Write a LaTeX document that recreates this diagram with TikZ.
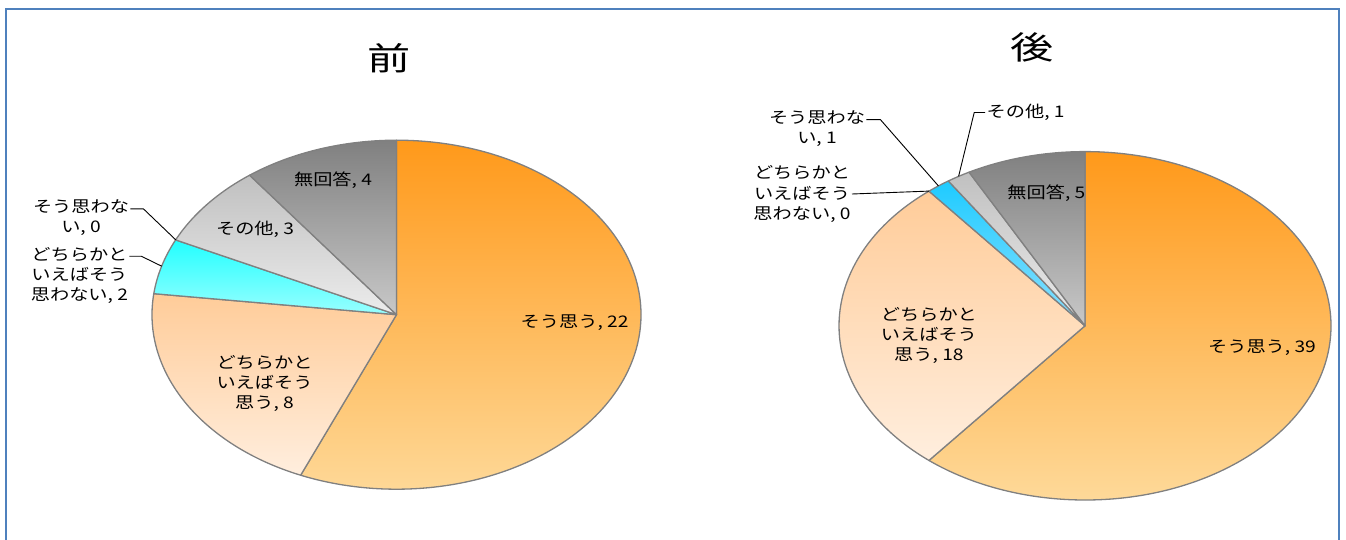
\documentclass[tikz,border=0pt]{standalone}
\usepackage{fontspec}
\setmainfont{Noto Sans CJK JP}
\definecolor{orgtop}{RGB}{255,153,26}
\definecolor{orgbot}{RGB}{254,217,153}
\definecolor{pchtop}{RGB}{255,204,153}
\definecolor{pchbot}{RGB}{255,238,222}
\definecolor{cyntop}{RGB}{34,255,255}
\definecolor{cynbot}{RGB}{153,255,255}
\definecolor{blutop}{RGB}{30,203,255}
\definecolor{blubot}{RGB}{140,224,255}
\definecolor{ltgtop}{RGB}{192,192,192}
\definecolor{ltgbot}{RGB}{236,236,236}
\definecolor{dkgtop}{RGB}{128,128,128}
\definecolor{dkgbot}{RGB}{200,200,200}
\definecolor{edgegray}{RGB}{128,128,128}
\definecolor{framecol}{RGB}{79,129,189}
\begin{document}
\begin{tikzpicture}[x=1pt,y=-1pt,
    slice/.style={draw=edgegray,line width=1.3pt,line join=round},
    lbl/.style={font=\fontsize{16}{20}\selectfont,align=center,inner sep=1pt,xscale=1.2,transform shape},
    ttl/.style={font=\fontsize{32}{36}\selectfont,inner sep=0pt,xscale=1.35,transform shape},
    leader/.style={draw=black,line width=0.9pt},
    chartframe/.style={draw=framecol,line width=2pt}]
  \useasboundingbox (0,0) rectangle (1346,540);
  \draw[chartframe] (5.7,9) rectangle (1338.7,560);
  \node[ttl] (t1) at (389,58) {前};
  \node[ttl] (t2) at (1032,47) {後};
  \begin{scope}[shift={(396.5,314.7)},xscale=244.5,yscale=-174.5]
    \draw[slice,top color=orgtop,bottom color=orgbot] (0,0) -- (90:1) arc[start angle=90,end angle=-113.08,radius=1] -- cycle;
    \draw[slice,top color=pchtop,bottom color=pchbot] (0,0) -- (-113.08:1) arc[start angle=-113.08,end angle=-186.92,radius=1] -- cycle;
    \draw[slice,top color=cyntop,bottom color=cynbot] (0,0) -- (-186.92:1) arc[start angle=-186.92,end angle=-205.38,radius=1] -- cycle;
    \draw[slice,top color=ltgtop,bottom color=ltgbot] (0,0) -- (-205.38:1) arc[start angle=-205.38,end angle=-233.08,radius=1] -- cycle;
    \draw[slice,top color=dkgtop,bottom color=dkgbot] (0,0) -- (-233.08:1) arc[start angle=-233.08,end angle=-270,radius=1] -- cycle;
  \end{scope}
  \begin{scope}[shift={(1085,325.8)},xscale=246,yscale=-174.2]
    \draw[slice,top color=orgtop,bottom color=orgbot] (0,0) -- (90:1) arc[start angle=90,end angle=-129.375,radius=1] -- cycle;
    \draw[slice,top color=pchtop,bottom color=pchbot] (0,0) -- (-129.375:1) arc[start angle=-129.375,end angle=-230.625,radius=1] -- cycle;
    \draw[slice,top color=blutop,bottom color=blubot] (0,0) -- (-230.625:1) arc[start angle=-230.625,end angle=-236.25,radius=1] -- cycle;
    \draw[slice,top color=ltgtop,bottom color=ltgbot] (0,0) -- (-236.25:1) arc[start angle=-236.25,end angle=-241.875,radius=1] -- cycle;
    \draw[slice,top color=dkgtop,bottom color=dkgbot] (0,0) -- (-241.875:1) arc[start angle=-241.875,end angle=-270,radius=1] -- cycle;
  \end{scope}
  \node[lbl] (a1) at (574.6,322.7) {そう思う, 22};
  \node[lbl] (a2) at (264.5,383) {どちらかと\\いえばそう\\思う, 8};
  \node[lbl] (a3) at (79.4,275.5) {どちらかと\\いえばそう\\思わない, 2};
  \node[lbl] (a4) at (81,218) {そう思わな\\い, 0};
  \node[lbl] (a5) at (255,229) {その他, 3};
  \node[lbl] (a6) at (333,180) {無回答, 4};
  \node[lbl] (b1) at (1262,347.8) {そう思う, 39};
  \node[lbl] (b2) at (928.9,335.7) {どちらかと\\いえばそう\\思う, 18};
  \node[lbl] (b3) at (802,194) {どちらかと\\いえばそう\\思わない, 0};
  \node[lbl] (b4) at (817,128.8) {そう思わな\\い, 1};
  \node[lbl] (b5) at (1025.6,112.5) {その他, 1};
  \node[lbl] (b6) at (1046.4,193.5) {無回答, 5};
  \coordinate (a3e) at (161.7,266.2);
  \coordinate (a4e) at (175.7,239.8);
  \coordinate (b3e) at (928.8,191.1);
  \coordinate (b4e) at (938.4,185.9);
  \coordinate (b5e) at (958.6,176.3);
  \draw[leader] ([yshift=-10pt]a3.north east) -- ++(12,0) -- (a3e);
  \draw[leader] ([yshift=-10pt]a4.north east) -- ++(13,0) -- (a4e);
  \draw[leader] (b3.east) -- (b3e);
  \draw[leader] ([yshift=-10pt]b4.north east) -- ++(14,0) -- (b4e);
  \draw[leader] (b5.west) -- ++(-11,0) -- (b5e);
\end{tikzpicture}
\end{document}
